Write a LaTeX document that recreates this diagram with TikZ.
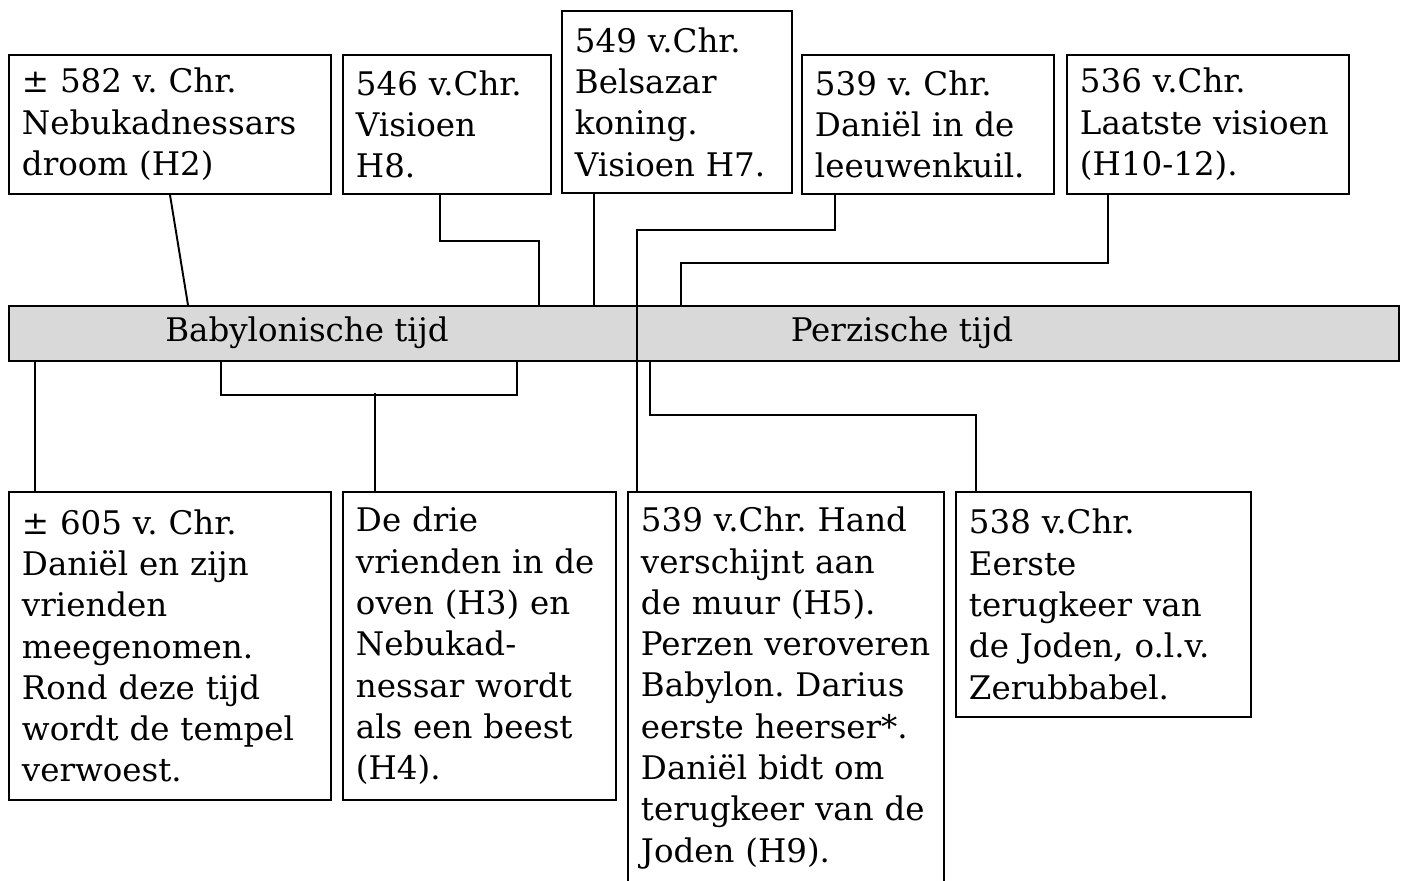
\documentclass[tikz,border=0pt]{standalone}
\usepackage{fontspec}
\setmainfont{DejaVu Serif}
\usetikzlibrary{calc}
\definecolor{balkgrijs}{RGB}{217,217,217}
\frenchspacing

\begin{document}
\begin{tikzpicture}[x=0.02cm,y=-0.02cm,line width=1.1pt,
	tekst/.style={font=\fontsize{18.5pt}{23.5pt}\selectfont},
	gebeurtenis/.style={tekst,draw,rectangle,anchor=north west,align=left,inner xsep=0.26cm,inner ysep=0pt}]
	\useasboundingbox (0,0) rectangle (1402,880);

	% tijdbalk
	\node[draw,fill=balkgrijs,anchor=north west,minimum width=27.8cm,minimum height=1.1cm,inner sep=0pt] (tijd) at (8,305) {};
	\node[tekst] (babylon) at (307,333) {Babylonische tijd};
	\node[tekst] (perzie) at (902,333) {Perzische tijd};

	% boven
	\node[gebeurtenis,text width=5.92cm,minimum height=2.78cm] (e1) at (8,54) {± 582 v. Chr.\\Nebukadnessars\\droom (H2)};
	\node[gebeurtenis,text width=3.64cm,minimum height=2.78cm] (e2) at (342,54) {546 v.Chr.\\Visioen\\H8.};
	\node[gebeurtenis,text width=4.08cm,minimum height=3.64cm] (e3) at (561,10) {549 v.Chr.\\Belsazar\\koning.\\Visioen H7.};
	\node[gebeurtenis,text width=4.52cm,minimum height=2.78cm] (e4) at (801,54) {539 v. Chr.\\Daniël in de\\leeuwenkuil.};
	\node[gebeurtenis,text width=5.12cm,minimum height=2.78cm] (e5) at (1066,54) {536 v.Chr.\\Laatste visioen\\(H10-12).};

	% onder
	\node[gebeurtenis,text width=5.92cm,minimum height=6.16cm] (e6) at (8,491) {± 605 v. Chr.\\Daniël en zijn\\vrienden\\meegenomen.\\Rond deze tijd\\wordt de tempel\\verwoest.};
	\node[gebeurtenis,text width=4.94cm,minimum height=6.16cm] (e7) at (342,491) {De drie\\vrienden in de\\oven (H3) en\\Nebukad-\\nessar wordt\\als een beest\\(H4).};
	\node[gebeurtenis,text width=5.80cm,minimum height=7.84cm] (e8) at (627,491) {539 v.Chr. Hand\\verschijnt aan\\de muur (H5).\\Perzen veroveren\\Babylon. Darius\\eerste heerser*.\\Daniël bidt om\\terugkeer van de\\Joden (H9).};
	\node[gebeurtenis,text width=5.38cm,minimum height=4.5cm] (e9) at (955,491) {538 v.Chr.\\Eerste\\terugkeer van\\de Joden, o.l.v.\\Zerubbabel.};

	% verbindingen boven
	\draw ($(e1.south west)+(162,0)$) -- ($(tijd.north west)+(180,0)$);
	\draw ($(e2.south west)+(98,0)$) -- ++(0,46) -| ($(tijd.north west)+(531,0)$);
	\draw ($(e3.south west)+(33,0)$) coordinate (c3) -- (c3 |- tijd.north);
	\draw ($(e4.south west)+(34,0)$) -- ++(0,35) -| ($(e8.north west)+(10,0)$);
	\draw ($(e5.south west)+(42,0)$) -- ++(0,68) -| ($(tijd.north west)+(673,0)$);

	% verbindingen onder
	\draw ($(e6.north west)+(27,0)$) coordinate (c6) -- (c6 |- tijd.south);
	\draw ($(tijd.south west)+(213,0)$) -- ++(0,33) -| ($(tijd.south west)+(509,0)$);
	\draw ($(e7.north west)+(33,0)$) -- ++(0,-98);
	\draw ($(tijd.south west)+(642,0)$) -- ++(0,53) -| ($(e9.north west)+(21,0)$);
\end{tikzpicture}
\end{document}
